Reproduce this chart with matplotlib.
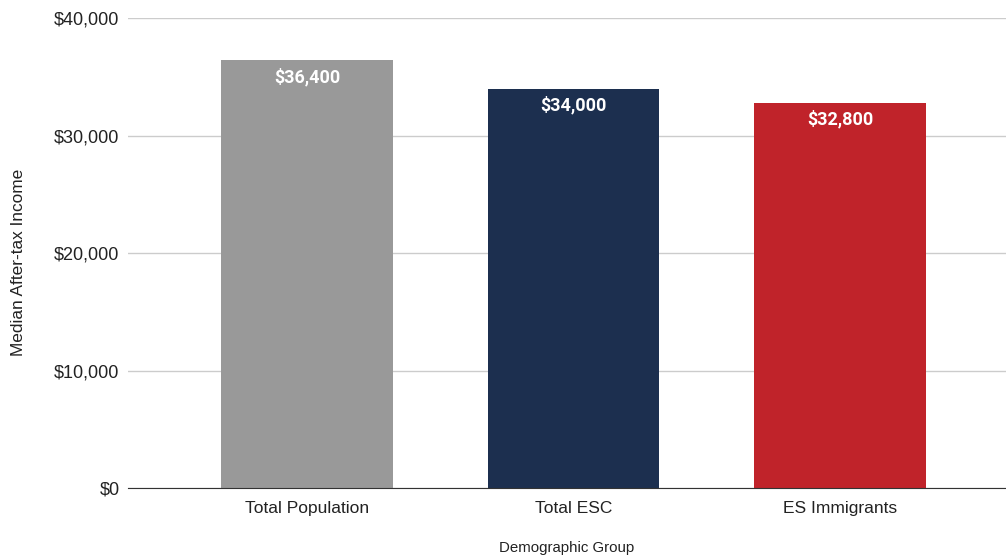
import matplotlib.pyplot as plt
from matplotlib.ticker import FuncFormatter

groups = ["Total Population", "Total ESC", "ES Immigrants"]
income = [36400, 34000, 32800]
colors = ["#999999", "#1c2f4f", "#c0232a"]

plt.rcParams['font.family'] = ['Liberation Sans', 'DejaVu Sans']

fig = plt.figure(figsize=(10.06, 5.56), dpi=100)
ax = fig.add_axes([0.1272, 0.1223, 0.8728, 0.8453])

x = list(range(len(groups)))
bars = ax.bar(x, income, width=0.645, color=colors, zorder=3)

# value labels just inside the top of each bar
for b, v in zip(bars, income):
    ax.annotate(f"${v:,.0f}", (b.get_x() + b.get_width() / 2, v),
                xytext=(0, -17), textcoords="offset pixels",
                ha="center", va="center", color="white", fontsize=13,
                fontweight="bold", family=["Roboto", "DejaVu Sans"])

ax.set_xlim(-0.672, 2.623)
ax.set_ylim(0, 40000)
ax.set_yticks([0, 10000, 20000, 30000, 40000])
ax.yaxis.set_major_formatter(FuncFormatter(lambda v, p: f"${v:,.0f}"))
ax.set_xticks(x)
ax.set_xticklabels(groups)
ax.tick_params(axis="x", labelsize=12.5, colors="#222222", length=0, pad=9)
ax.tick_params(axis="y", labelsize=13, colors="#222222", length=0, pad=6)

ax.grid(axis="y", color="#cccccc", linewidth=1, zorder=0)
for s in ["top", "right", "left"]:
    ax.spines[s].set_visible(False)
ax.spines["bottom"].set_color("#333333")
ax.spines["bottom"].set_zorder(4)

ax.set_ylabel("Median After-tax Income", fontsize=12.4, color="#222222")
ax.set_xlabel("Demographic Group", fontsize=10.8, color="#222222")
ax.yaxis.set_label_coords(-0.125, 0.481)
ax.xaxis.set_label_coords(0.5, -0.128)
ax.yaxis.label.set_va("center")
ax.xaxis.label.set_va("center")

fig.savefig("out.png", dpi=100)
